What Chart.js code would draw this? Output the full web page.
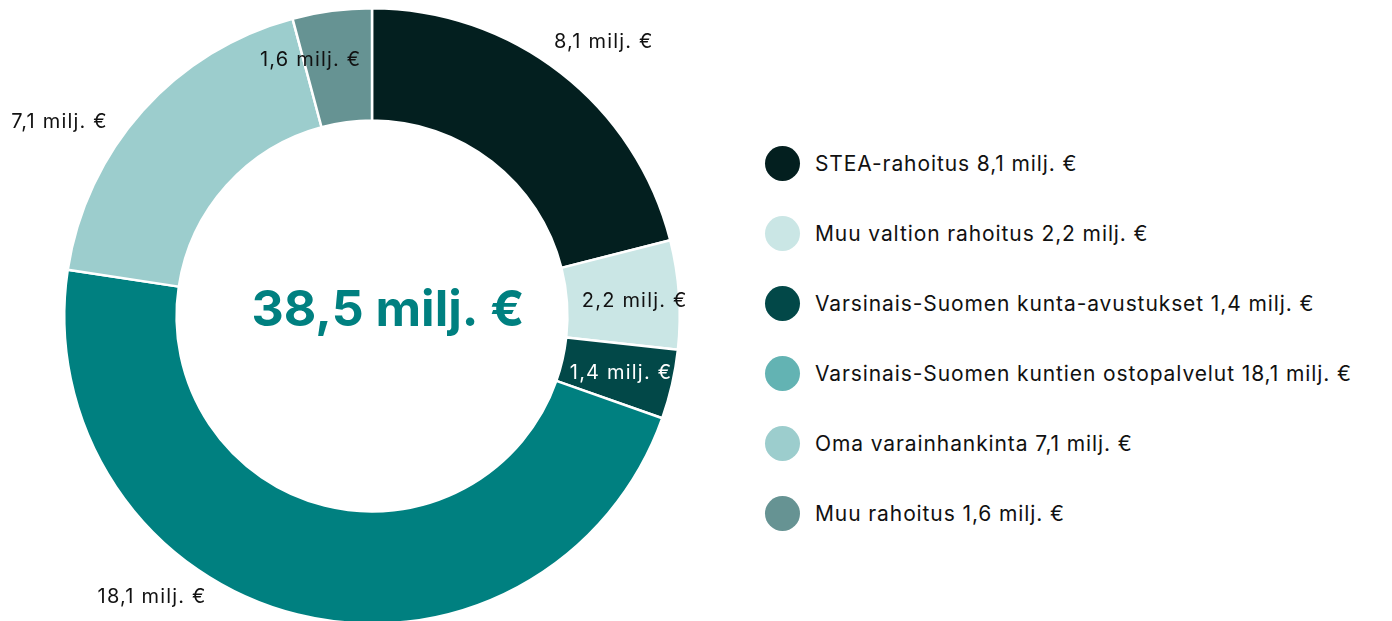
<!DOCTYPE html>
<html>
<head>
<meta charset="utf-8">
<script src="https://cdn.jsdelivr.net/npm/chart.js@4"></script>
<style>
  html, body { margin: 0; padding: 0; background: #fff; overflow: hidden; }
  body { width: 1392px; height: 621px; position: relative; font-family: Inter, "Open Sans", sans-serif; }
  #wrap { position: absolute; left: 0; top: 0; width: 744px; height: 636px; }
  #legend { position: absolute; left: 765px; top: 146px; margin: 0; padding: 0; list-style: none; }
  #legend li { display: flex; align-items: center; height: 35px; margin-bottom: 35px; font-size: 21px; letter-spacing: 0.9px; color: #111; white-space: nowrap; }
  #legend span.dot { display: inline-block; width: 35px; height: 35px; border-radius: 50%; margin-right: 15px; }
</style>
</head>
<body>
<div id="wrap"><canvas id="fundingChart"></canvas></div>
<ul id="legend"></ul>
<script>
// Data
const categories = [
    "STEA-rahoitus",
    "Muu valtion rahoitus",
    "Varsinais-Suomen kunta-avustukset",
    "Varsinais-Suomen kuntien ostopalvelut",
    "Oma varainhankinta",
    "Muu rahoitus",
];
const values = [8.1, 2.2, 1.4, 18.1, 7.1, 1.6];
const totalLabel = "38,5 milj. €";

// Colors
const sliceColors = ["#031f1f", "#cae6e5", "#024848", "#008080", "#9ccdcd", "#669393"];
const legendColors = ["#031f1f", "#cae6e5", "#024848", "#63b3b3", "#9ccdcd", "#669393"];
const labelColors = ["#111", "#111", "#fff", "#111", "#111", "#111"];

// label placement: radius as fraction of outer radius, angle nudge in degrees
const labelRadius = [1.165, 0.855, 0.83, 1.16, 1.195, 0.855];
const labelShift = [2.4, 0.7, 0, 24, -10, -6];

function fmt(v) {
    return v.toFixed(1).replace(".", ",") + " milj. €";
}

const sliceLabels = {
    id: "sliceLabels",
    afterDatasetsDraw(chart) {
        const ctx = chart.ctx;
        const meta = chart.getDatasetMeta(0);
        ctx.save();
        ctx.font = "20px Inter, 'Open Sans', sans-serif";
        ctx.letterSpacing = "1.2px";
        ctx.textAlign = "center";
        ctx.textBaseline = "middle";
        meta.data.forEach((arc, i) => {
            const p = arc.getProps(["x", "y", "startAngle", "endAngle", "outerRadius"], true);
            const mid = (p.startAngle + p.endAngle) / 2 + labelShift[i] * Math.PI / 180;
            const r = p.outerRadius * labelRadius[i];
            ctx.fillStyle = labelColors[i];
            ctx.fillText(fmt(values[i]), p.x + Math.cos(mid) * r, p.y + Math.sin(mid) * r);
        });
        ctx.restore();
    },
};

const centerText = {
    id: "centerText",
    afterDraw(chart) {
        const ctx = chart.ctx;
        const arc = chart.getDatasetMeta(0).data[0];
        ctx.save();
        ctx.font = "bold 50px Inter, 'Open Sans', sans-serif";
        ctx.fillStyle = "#008080";
        ctx.textAlign = "center";
        ctx.textBaseline = "middle";
        ctx.fillText(totalLabel, arc.x + 16, arc.y - 5);
        ctx.restore();
    },
};

const canvas = document.getElementById("fundingChart");
new Chart(canvas.getContext("2d"), {
    type: "doughnut",
    data: {
        labels: categories,
        datasets: [
            {
                data: values,
                backgroundColor: sliceColors,
                borderColor: "#fff",
                borderWidth: 2.5,
                cutout: "63.5%",
            },
        ],
    },
    options: {
        responsive: true,
        maintainAspectRatio: false,
        animation: false,
        layout: { padding: { top: 7, bottom: 11 } },
        plugins: {
            legend: { display: false },
            tooltip: { enabled: false },
        },
    },
    plugins: [sliceLabels, centerText],
});

// Legend
const legendEl = document.getElementById("legend");
categories.forEach((name, i) => {
    const li = document.createElement("li");
    li.innerHTML = '<span class="dot" style="background:' + legendColors[i] + '"></span>' + name + " " + fmt(values[i]);
    legendEl.appendChild(li);
});
</script>
</body>
</html>
